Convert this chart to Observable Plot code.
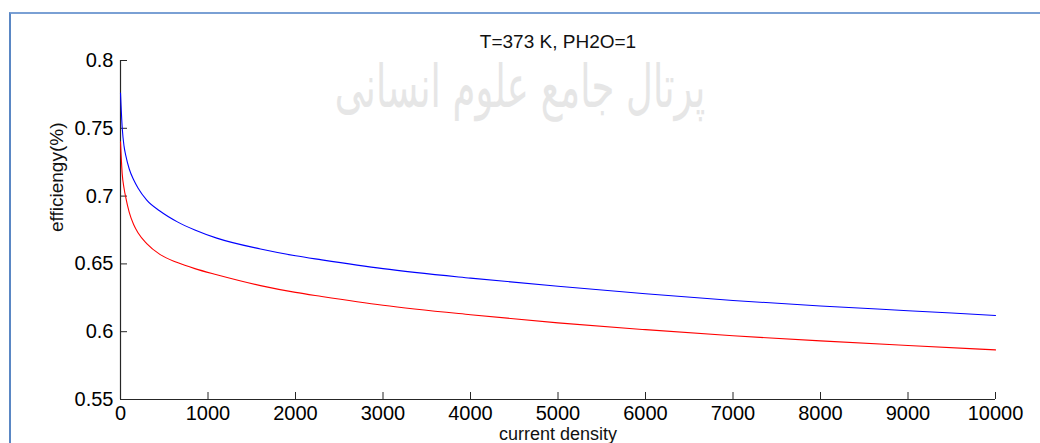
<!DOCTYPE html>
<html>
<head>
<meta charset="utf-8">
<script src="https://cdn.jsdelivr.net/npm/d3@7"></script>
<script src="https://cdn.jsdelivr.net/npm/@observablehq/plot@0.6"></script>
<style>
  html, body { margin: 0; padding: 0; background: #fff; }
  #wrap { position: relative; width: 1040px; height: 443px; overflow: hidden; background: #fff; }
  #watermark { position: absolute; left: 330px; top: 56px; width: 380px; text-align: center;
    font-family: "DejaVu Sans", sans-serif; font-size: 37px; line-height: 40px; color: #e6e6e6;
    direction: rtl; white-space: nowrap; transform: scale(1, 1.6); transform-origin: 50% 0; }
  #frameline { position: absolute; left: 9px; top: 12px; width: 1100px; height: 500px;
    border-left: 2px solid #5a87c4; border-top: 2px solid #7aa0d4; }
  #chart { position: absolute; left: 0; top: 0; }
</style>
</head>
<body>
<div id="wrap">
  <div id="watermark">پرتال جامع علوم انسانی</div>
  <div id="frameline"></div>
  <div id="chart"></div>
</div>
<script>
const titleText = "T=373 K, PH2O=1";
const xLabel = "current density";
const yLabel = "efficiengy(%)";

const currentDensity = [0, 20, 40, 60, 100, 150, 200, 300, 450, 650, 850, 1100, 1600, 2000, 2300, 3000, 4000, 5000, 6000, 7000, 8000, 9000, 10000];
const effBlue = [0.776, 0.750, 0.737, 0.730, 0.720, 0.712, 0.706, 0.697, 0.689, 0.681, 0.675, 0.669, 0.661, 0.656, 0.653, 0.6465, 0.6395, 0.6335, 0.628, 0.623, 0.619, 0.6155, 0.612];
const effRed  = [0.740, 0.716, 0.706, 0.699, 0.688, 0.679, 0.673, 0.665, 0.657, 0.651, 0.6465, 0.642, 0.634, 0.629, 0.626, 0.6195, 0.6125, 0.6065, 0.6015, 0.597, 0.5932, 0.5898, 0.5866];

const xTicks = [0, 1000, 2000, 3000, 4000, 5000, 6000, 7000, 8000, 9000, 10000];
const yTicks = [0.55, 0.6, 0.65, 0.7, 0.75, 0.8];

const blueRows = currentDensity.map((x, i) => ({x, y: effBlue[i]}));
const redRows = currentDensity.map((x, i) => ({x, y: effRed[i]}));

const W = 1040, H = 443, ML = 120, MR = 45, MT = 60, MB = 44;
const axisColor = "#262626";
const font = "'Liberation Sans', Arial, Helvetica, sans-serif";

const chart = Plot.plot({
  width: W, height: H,
  marginLeft: ML, marginRight: MR, marginTop: MT, marginBottom: MB,
  style: {background: "transparent", fontFamily: font, fontSize: "20px", color: "#000"},
  x: {domain: [0, 10000]},
  y: {domain: [0.55, 0.8]},
  marks: [
    Plot.ruleX([0], {stroke: axisColor, strokeWidth: 1.2}),
    Plot.ruleY([0.55], {stroke: axisColor, strokeWidth: 1.2}),
    Plot.tickY(yTicks, {y: d => d, stroke: axisColor, insetRight: W - ML - MR - 7}),
    Plot.tickX(xTicks, {x: d => d, stroke: axisColor, insetTop: H - MT - MB - 7}),
    Plot.axisY({ticks: yTicks, tickSize: 0, tickPadding: 7, label: null, fontSize: 20,
      tickFormat: d => String(Math.round(d * 100) / 100)}),
    Plot.axisX({ticks: xTicks, tickSize: 0, tickPadding: 6.5, label: null, fontSize: 20,
      tickFormat: d => String(d)}),
    Plot.line(blueRows, {x: "x", y: "y", stroke: "#0000ff", strokeWidth: 1.1, curve: "monotone-x"}),
    Plot.line(redRows, {x: "x", y: "y", stroke: "#ff0000", strokeWidth: 1.1, curve: "monotone-x"}),
    Plot.text([titleText], {frameAnchor: "top", dy: -18.5, text: d => d, fontSize: 19, fill: "#111", lineAnchor: "middle"}),
    Plot.text([xLabel], {frameAnchor: "bottom", dy: 35.2, text: d => d, fontSize: 18, fill: "#111", lineAnchor: "middle"}),
    Plot.text([yLabel], {frameAnchor: "left", dx: -64, dy: 2, rotate: -90, text: d => d, fontSize: 19, fill: "#111", lineAnchor: "middle"})
  ]
});
document.getElementById("chart").appendChild(chart);
</script>
</body>
</html>
